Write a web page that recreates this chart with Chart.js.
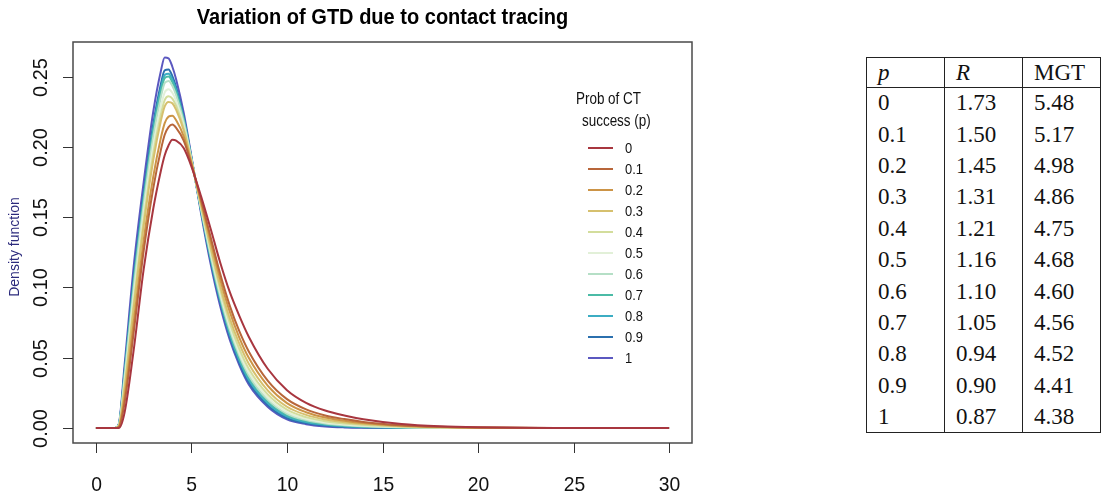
<!DOCTYPE html>
<html>
<head>
<meta charset="utf-8">
<title>Variation of GTD due to contact tracing</title>
<script src="https://cdn.jsdelivr.net/npm/chart.js@4.4.1/dist/chart.umd.min.js"></script>
<style>
    body { margin: 0; background: #fff; }
    #wrap { position: relative; width: 1102px; height: 498px; }
    #gtd { position: absolute; left: 0; top: 0; }
    #mgt-table {
        position: absolute; left: 866px; top: 57px;
        border-collapse: collapse; table-layout: fixed; width: 234px;
        font-family: "Liberation Serif", "DejaVu Serif", serif; font-size: 23px; color: #111;
    }
    #mgt-table th, #mgt-table td {
        width: 78px; padding: 0 0 0 11px; text-align: left; font-weight: normal;
        border-left: 1px solid #222; border-right: 1px solid #222; box-sizing: border-box;
    }
    #mgt-table th { height: 30px; border-top: 1px solid #222; border-bottom: 1px solid #222; }
    #mgt-table td { height: 31.4px; }
    #mgt-table tbody tr:last-child td { border-bottom: 1px solid #222; }
</style>
</head>
<body>
<div id="wrap">
    <canvas id="gtd" width="700" height="498"></canvas>
    <table id="mgt-table">
        <thead><tr><th><i>p</i></th><th><i>R</i></th><th>MGT</th></tr></thead>
        <tbody></tbody>
    </table>
</div>
<script>
const xValues = [0, 1, 1.2, 1.5, 2, 2.5, 3, 3.4, 3.6, 3.8, 4, 4.2, 4.6, 5, 5.5, 6, 6.5, 7, 7.5, 8, 9, 10, 11, 12, 13, 14, 16, 18, 20, 24, 30];

const density0 = [0, 0, 0, 0.011, 0.058, 0.113, 0.156, 0.183, 0.194, 0.201, 0.205, 0.2045, 0.199, 0.186, 0.165, 0.142, 0.118, 0.097, 0.080, 0.065, 0.042, 0.027, 0.018, 0.0125, 0.009, 0.0063, 0.0029, 0.0013, 0.0006, 0.0001, 0];
const density01 = [0, 0, 0.0006, 0.0181, 0.0706, 0.1260, 0.1705, 0.1979, 0.2086, 0.2140, 0.2159, 0.2136, 0.2043, 0.1875, 0.1625, 0.1361, 0.1099, 0.0873, 0.0691, 0.0545, 0.0336, 0.0206, 0.0133, 0.0090, 0.0064, 0.0044, 0.0020, 0.0009, 0.0004, 0.0001, 0];
const density02 = [0, 0, 0.0010, 0.0222, 0.0778, 0.1335, 0.1788, 0.2064, 0.2169, 0.2215, 0.2222, 0.2189, 0.2073, 0.1883, 0.1610, 0.1331, 0.1061, 0.0830, 0.0646, 0.0500, 0.0301, 0.0178, 0.0113, 0.0075, 0.0053, 0.0036, 0.0016, 0.0007, 0.0003, 0.0001, 0];
const density03 = [0, 0, 0.0015, 0.0280, 0.0880, 0.1440, 0.1905, 0.2185, 0.2288, 0.2320, 0.2310, 0.2263, 0.2115, 0.1895, 0.1590, 0.1291, 0.1015, 0.0783, 0.0602, 0.0458, 0.0267, 0.0152, 0.0094, 0.0061, 0.0042, 0.0029, 0.0013, 0.0006, 0.0003, 0, 0];
const density04 = [0, 0, 0.0017, 0.0302, 0.0919, 0.1480, 0.1950, 0.2231, 0.2333, 0.2360, 0.2344, 0.2291, 0.2131, 0.1900, 0.1582, 0.1272, 0.0989, 0.0751, 0.0565, 0.0422, 0.0239, 0.0131, 0.0078, 0.0049, 0.0033, 0.0022, 0.0010, 0.0004, 0.0002, 0, 0];
const density05 = [0, 0, 0.0019, 0.0329, 0.0967, 0.1530, 0.2005, 0.2288, 0.2388, 0.2410, 0.2385, 0.2326, 0.2151, 0.1905, 0.1573, 0.1252, 0.0964, 0.0724, 0.0537, 0.0395, 0.0217, 0.0114, 0.0066, 0.0040, 0.0026, 0.0017, 0.0007, 0.0003, 0.0001, 0, 0];
const density06 = [0, 0, 0.0022, 0.0362, 0.1024, 0.1589, 0.2071, 0.2355, 0.2454, 0.2469, 0.2435, 0.2367, 0.2175, 0.1912, 0.1561, 0.1231, 0.0940, 0.0701, 0.0517, 0.0375, 0.0201, 0.0102, 0.0057, 0.0033, 0.0021, 0.0014, 0.0006, 0.0002, 0.0001, 0, 0];
const density07 = [0, 0, 0.0024, 0.0379, 0.1054, 0.1620, 0.2105, 0.2391, 0.2489, 0.2500, 0.2461, 0.2389, 0.2188, 0.1915, 0.1555, 0.1219, 0.0926, 0.0686, 0.0502, 0.0361, 0.0190, 0.0093, 0.0051, 0.0029, 0.0018, 0.0011, 0.0004, 0.0002, 0.0001, 0, 0];
const density08 = [0, 0, 0.0025, 0.0390, 0.1074, 0.1640, 0.2128, 0.2414, 0.2512, 0.2520, 0.2478, 0.2403, 0.2196, 0.1918, 0.1551, 0.1210, 0.0913, 0.0670, 0.0485, 0.0344, 0.0177, 0.0083, 0.0043, 0.0023, 0.0013, 0.0008, 0.0003, 0.0001, 0.0001, 0, 0];
const density09 = [0, 0, 0.0026, 0.0406, 0.1103, 0.1670, 0.2161, 0.2448, 0.2545, 0.2550, 0.2503, 0.2424, 0.2208, 0.1921, 0.1545, 0.1197, 0.0898, 0.0654, 0.0467, 0.0327, 0.0163, 0.0072, 0.0036, 0.0018, 0.0009, 0.0005, 0.0001, 0, 0, 0, 0];
const density1 = [0, 0, 0.003, 0.045, 0.118, 0.175, 0.225, 0.254, 0.2635, 0.263, 0.257, 0.248, 0.224, 0.193, 0.153, 0.117, 0.087, 0.063, 0.045, 0.031, 0.015, 0.0062, 0.0028, 0.0012, 0.0005, 0.0002, 0, 0, 0, 0, 0];

const pLabels = ['0', '0.1', '0.2', '0.3', '0.4', '0.5', '0.6', '0.7', '0.8', '0.9', '1'];
const rValues = [1.73, 1.50, 1.45, 1.31, 1.21, 1.16, 1.10, 1.05, 0.94, 0.90, 0.87];
const mgtValues = [5.48, 5.17, 4.98, 4.86, 4.75, 4.68, 4.60, 4.56, 4.52, 4.41, 4.38];

const xTicks = [0, 5, 10, 15, 20, 25, 30];
const yTicks = [0, 0.05, 0.10, 0.15, 0.20, 0.25];

const seriesList = [density0, density01, density02, density03, density04, density05, density06, density07, density08, density09, density1];
const lineColors = ['#a8363f', '#b8663a', '#cc9446', '#d6c06e', '#d3dd9c', '#e2f0d8', '#b5dfc6', '#4bbba6', '#3cadc3', '#2b70ae', '#5b58c0'];

const sans = '"Liberation Sans", Arial, sans-serif';

// table on the right
const tbody = document.querySelector('#mgt-table tbody');
pLabels.forEach((p, i) => {
    const tr = document.createElement('tr');
    tr.innerHTML = `<td>${p}</td><td>${rValues[i].toFixed(2)}</td><td>${mgtValues[i].toFixed(2)}</td>`;
    tbody.appendChild(tr);
});

// R draws in a condensed helvetica, squeeze the text a bit
function squeezedText(ctx, text, x, y, sx, angle) {
    ctx.save();
    ctx.translate(x, y);
    if (angle) ctx.rotate(angle);
    ctx.scale(sx, 1);
    ctx.fillText(text, 0, 0);
    ctx.restore();
}

const rFrame = {
    id: 'rFrame',
    afterDraw(chart) {
        const ctx = chart.ctx;
        const a = chart.chartArea;
        const xs = chart.scales.x;
        const ys = chart.scales.y;
        ctx.save();

        ctx.strokeStyle = '#4a4a4a';
        ctx.lineWidth = 1.5;
        ctx.strokeRect(a.left, a.top, a.right - a.left, a.bottom - a.top);

        ctx.strokeStyle = '#333';
        ctx.lineWidth = 1;
        ctx.fillStyle = '#111';
        ctx.font = '21px ' + sans;
        ctx.textAlign = 'center';
        ctx.textBaseline = 'middle';
        xTicks.forEach(v => {
            const px = Math.round(xs.getPixelForValue(v)) + 0.5;
            ctx.beginPath();
            ctx.moveTo(px, a.bottom);
            ctx.lineTo(px, a.bottom + 10);
            ctx.stroke();
            squeezedText(ctx, String(v), px, 485, 0.92);
        });
        yTicks.forEach(v => {
            const py = Math.round(ys.getPixelForValue(v)) + 0.5;
            ctx.beginPath();
            ctx.moveTo(a.left - 10, py);
            ctx.lineTo(a.left, py);
            ctx.stroke();
            squeezedText(ctx, v.toFixed(2), 41, py, 0.95, -Math.PI / 2);
        });

        // title and y label
        ctx.font = 'bold 22px ' + sans;
        ctx.fillStyle = '#000';
        squeezedText(ctx, 'Variation of GTD due to contact tracing', (a.left + a.right) / 2, 18, 0.91);

        ctx.font = '14px ' + sans;
        ctx.fillStyle = '#2b2a7c';
        squeezedText(ctx, 'Density function', 15, 247, 1, -Math.PI / 2);

        // legend
        ctx.fillStyle = '#111';
        ctx.font = '16px ' + sans;
        ctx.textAlign = 'left';
        squeezedText(ctx, 'Prob of CT', 576, 100, 0.84);
        squeezedText(ctx, 'success (p)', 582, 122, 0.84);
        ctx.font = '15px ' + sans;
        pLabels.forEach((p, i) => {
            const py = 148 + i * 21;
            ctx.strokeStyle = lineColors[i];
            ctx.lineWidth = 2;
            ctx.beginPath();
            ctx.moveTo(588, py);
            ctx.lineTo(613, py);
            ctx.stroke();
            squeezedText(ctx, p, 625, py + 1, 0.86);
        });
        ctx.restore();
    }
};

new Chart(document.getElementById('gtd'), {
    type: 'line',
    data: {
        datasets: seriesList.map((s, i) => ({
            label: pLabels[i],
            data: xValues.map((x, j) => ({ x: x, y: s[j] })),
            borderColor: lineColors[i],
            borderWidth: 2,
            pointRadius: 0,
            fill: false,
            cubicInterpolationMode: 'monotone'
        }))
    },
    options: {
        responsive: false,
        animation: false,
        devicePixelRatio: 1,
        layout: { padding: { left: 73, right: 8, top: 42, bottom: 55 } },
        plugins: { legend: { display: false }, tooltip: { enabled: false } },
        scales: {
            x: { type: 'linear', display: false, min: -1.2, max: 31.2 },
            y: { type: 'linear', display: false, min: -0.0106, max: 0.2746 }
        }
    },
    plugins: [rFrame]
});
</script>
</body>
</html>
